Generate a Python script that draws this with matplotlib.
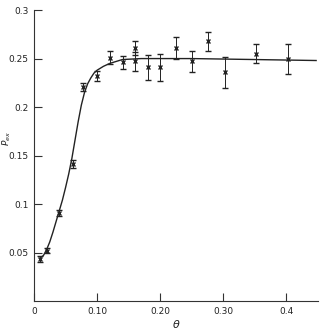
import matplotlib
matplotlib.use('Agg')
import matplotlib.pyplot as plt

# measured points (theta, P_ex, error)
theta = [0.0095, 0.020, 0.040, 0.061, 0.078, 0.100, 0.120, 0.141, 0.160, 0.160,
         0.180, 0.200, 0.225, 0.250, 0.276, 0.302, 0.352, 0.403]
p_ex = [0.043, 0.052, 0.091, 0.141, 0.221, 0.232, 0.251, 0.246, 0.261, 0.247,
        0.241, 0.241, 0.261, 0.247, 0.268, 0.236, 0.255, 0.250]
p_err = [0.003, 0.003, 0.003, 0.004, 0.004, 0.005, 0.007, 0.0065, 0.007, 0.0097,
         0.0128, 0.014, 0.011, 0.011, 0.0097, 0.016, 0.010, 0.0155]

# fitted curve
curve_theta = [0.009, 0.015, 0.020, 0.025, 0.030, 0.035, 0.040, 0.045, 0.050, 0.055,
               0.060, 0.065, 0.070, 0.075, 0.080, 0.085, 0.090, 0.095, 0.100, 0.110,
               0.120, 0.140, 0.170, 0.250, 0.350, 0.447]
curve_p = [0.044, 0.047, 0.053, 0.061, 0.071, 0.082, 0.093, 0.104, 0.117, 0.131,
           0.147, 0.166, 0.185, 0.202, 0.215, 0.224, 0.230, 0.235, 0.238, 0.242,
           0.245, 0.249, 0.250, 0.250, 0.249, 0.248]

xticks = [0, 0.10, 0.20, 0.30, 0.4]
xticklabels = ['0', '0.10', '0.20', '0.30', '0.4']
yticks = [0.05, 0.1, 0.15, 0.2, 0.25, 0.3]
yticklabels = ['0.05', '0.1', '0.15', '0.2', '0.25', '0.3']

fig = plt.figure(figsize=(3.22, 3.34), dpi=100)
ax = fig.add_axes([0.1056, 0.0988, 0.882, 0.871])

ax.plot(curve_theta, curve_p, color='#222222', lw=1.0)
ax.errorbar(theta, p_ex, yerr=p_err, fmt='x', color='#222222', ms=3.5, mew=1.0,
            elinewidth=0.7, capsize=2.2, capthick=0.7)

ax.set_xlim(0, 0.45)
ax.set_ylim(0, 0.3)
ax.spines['top'].set_visible(False)
ax.spines['right'].set_visible(False)
ax.spines['left'].set_color('#333333')
ax.spines['bottom'].set_color('#333333')
ax.set_xticks(xticks)
ax.set_xticklabels(xticklabels)
ax.set_yticks(yticks)
ax.set_yticklabels(yticklabels)
ax.tick_params(direction='in', length=6, width=0.8, labelsize=6.5, colors='#333333',
               labelcolor='#222222')
ax.tick_params(axis='y', pad=4)
ax.tick_params(axis='x', pad=4)
ax.set_xlabel(r'$\theta$', fontsize=8, labelpad=2, color='#222222')
ax.set_ylabel(r'$P_{ex}$', fontsize=6.5, color='#222222')
ax.yaxis.set_label_coords(-0.075, 0.56)

fig.savefig('out.png', dpi=100)
